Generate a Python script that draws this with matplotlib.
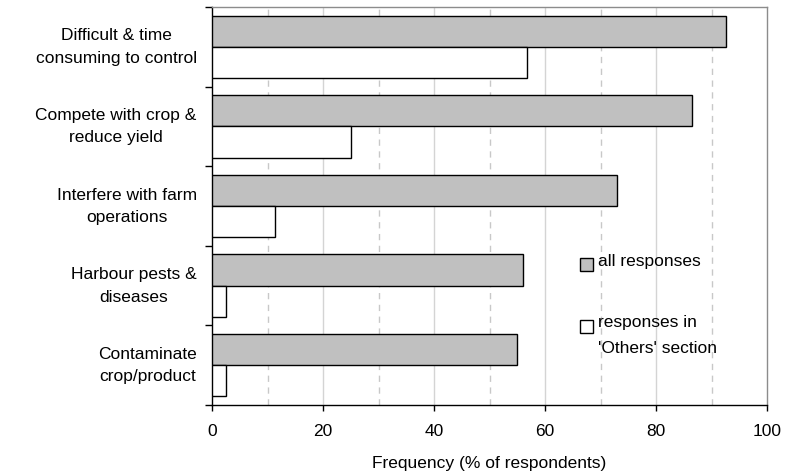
import matplotlib
matplotlib.use("Agg")
import matplotlib.pyplot as plt
from matplotlib.patches import Rectangle
from matplotlib.transforms import ScaledTranslation
import numpy as np

plt.rcParams['font.family'] = ['Liberation Sans', 'DejaVu Sans']

categories = [
    "Difficult & time\nconsuming to control",
    "Compete with crop &\nreduce yield",
    "Interfere with farm\noperations",
    "Harbour pests &\ndiseases",
    "Contaminate\ncrop/product",
]
all_responses = [92.7, 86.4, 73.0, 56.1, 55.0]
others_section = [56.8, 25.0, 11.4, 2.5, 2.5]
series_labels = ["all responses", "responses in\n'Others' section"]
x_ticks = [0, 20, 40, 60, 80, 100]
x_label = "Frequency (% of respondents)"

fs = 12.5
fig = plt.figure(figsize=(7.85, 4.74), dpi=100)
ax = fig.add_axes([212 / 785, 1 - 405 / 474, 555 / 785, 398 / 474])

y = np.arange(len(categories))
h = 0.393
ax.barh(y - h / 2, all_responses, height=h, color="#c0c0c0",
        edgecolor="black", linewidth=1.0, zorder=3)
ax.barh(y + h / 2, others_section, height=h, color="white",
        edgecolor="black", linewidth=1.0, zorder=3)

ax.set_xlim(0, 100)
ax.set_ylim(len(categories) - 0.5, -0.5)

# vertical gridlines: solid at major ticks, dashed halfway between
for v in [20, 40, 60, 80]:
    ax.axvline(v, color="#d4d4d4", linewidth=1.0, zorder=1)
for v in [10, 30, 50, 70, 90]:
    ax.axvline(v, color="#c8c8c8", linewidth=1.0, linestyle=(0, (4.5, 4)), zorder=1)

ax.set_xticks(x_ticks)
ax.set_xticklabels([str(t) for t in x_ticks], fontsize=fs)
ax.tick_params(axis="x", direction="out", length=4, width=1, pad=10, color="black")

ax.set_yticks(y)
ax.set_yticklabels(categories, fontsize=fs, multialignment="center",
                   linespacing=1.62)
ax.set_yticks(np.arange(len(categories) + 1) - 0.5, minor=True)
ax.tick_params(axis="y", which="major", length=0, pad=11)
ax.tick_params(axis="y", which="minor", direction="out", length=5, width=1,
               color="black")
lift = ScaledTranslation(0, 5 / 100, fig.dpi_scale_trans)
for lbl in ax.get_yticklabels():
    lbl.set_transform(lbl.get_transform() + lift)

ax.set_xlabel(x_label, fontsize=fs, labelpad=12)

for side in ["left", "bottom"]:
    ax.spines[side].set_color("black")
    ax.spines[side].set_linewidth(1.0)
for side in ["top", "right"]:
    ax.spines[side].set_color("#8c8c8c")
    ax.spines[side].set_linewidth(1.0)

# legend drawn by hand so the swatch sits beside the first text line
sw, sh = 13 / 555, 13 / 398
entries = [("#c0c0c0", series_labels[0], 0.337, 0.358),
           ("white", series_labels[1], 0.181, 0.205)]
for color, label, ybot, ytext in entries:
    ax.add_patch(Rectangle((0.663, ybot), sw, sh, transform=ax.transAxes,
                           facecolor=color, edgecolor="black", linewidth=1.0,
                           zorder=5, clip_on=False))
    ax.text(0.695, ytext + 0.022, label, transform=ax.transAxes, fontsize=fs,
            ha="left", va="top", linespacing=1.95, zorder=5)

fig.savefig("out.png", dpi=100)
